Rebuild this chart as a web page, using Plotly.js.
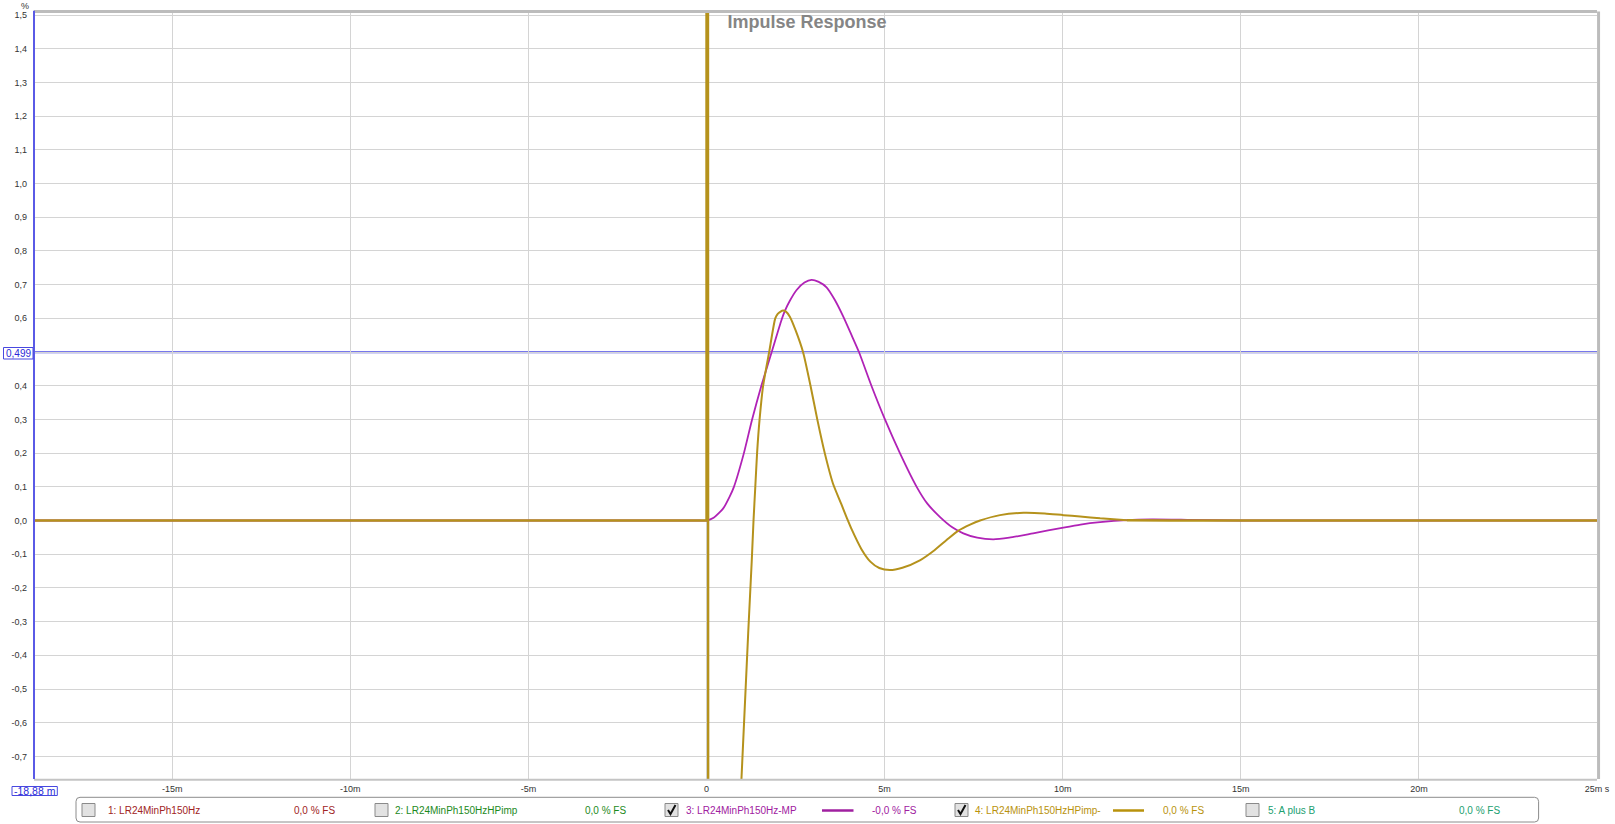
<!DOCTYPE html>
<html>
<head>
<meta charset="utf-8">
<script src="https://cdn.plot.ly/plotly-3.0.1.min.js"></script>
<style>
html,body{margin:0;padding:0;background:#fff;}
#chart{width:1615px;height:824px;}
</style>
</head>
<body>
<div id="chart"></div>
<script>
// ---- data (time in ms, value in %) ----
const tMP = [-18.88, -0.2, 0, 0.2, 0.47, 0.65, 0.77, 1.05, 1.28, 1.54, 1.83, 2.09, 2.2, 2.34, 2.53, 2.75, 2.95, 3.15, 3.37, 3.6, 3.84, 4.06, 4.28, 4.63, 5.01, 5.43, 5.9, 6.2, 6.55, 6.9, 7.21, 7.6, 8.05, 8.5, 9.17, 10.02, 10.5, 11.05, 11.8, 12.5, 13.5, 15, 25];
const vMP = [0, 0, 0, 0.008, 0.036, 0.071, 0.1, 0.2, 0.3, 0.4, 0.5, 0.59, 0.622, 0.652, 0.684, 0.706, 0.714, 0.708, 0.692, 0.655, 0.605, 0.553, 0.5, 0.4, 0.3, 0.2, 0.1, 0.05, 0.011, -0.02, -0.038, -0.051, -0.056, -0.051, -0.038, -0.021, -0.012, -0.005, 0.001, 0.003, 0.002, 0, 0];

const tHP = [-18.88, 0, 0, 0.09, 0.2, 0.5, 0.8, 0.98, 1.17, 1.27, 1.32, 1.37, 1.42, 1.49, 1.59, 1.76, 1.93, 2.0, 2.08, 2.15, 2.23, 2.34, 2.5, 2.71, 2.92, 3.11, 3.32, 3.55, 3.78, 3.95, 4.07, 4.35, 4.6, 4.85, 5.15, 5.5, 5.99, 6.4, 6.74, 7.07, 7.4, 7.68, 8.24, 8.9, 9.5, 10.02, 10.49, 11.05, 11.8, 13, 25];
const vHP = [0, 0, 20, -20, -5, -2.2, -1.2, -0.77, -0.335, -0.12, 0.0, 0.1, 0.2, 0.3, 0.4, 0.5, 0.6, 0.613, 0.62, 0.623, 0.62, 0.605, 0.565, 0.5, 0.4, 0.3, 0.2, 0.11, 0.05, 0.005, -0.025, -0.085, -0.122, -0.141, -0.147, -0.14, -0.118, -0.088, -0.058, -0.03, -0.012, 0.0, 0.016, 0.023, 0.021, 0.016, 0.012, 0.0065, 0.001, 0, 0];

const yTickVals = [1.5, 1.4, 1.3, 1.2, 1.1, 1.0, 0.9, 0.8, 0.7, 0.6, 0.5, 0.4, 0.3, 0.2, 0.1, 0.0, -0.1, -0.2, -0.3, -0.4, -0.5, -0.6, -0.7];
const yTickText = ['1,5','1,4','1,3','1,2','1,1','1,0','0,9','0,8','0,7','0,6','','0,4','0,3','0,2','0,1','0,0','-0,1','-0,2','-0,3','-0,4','-0,5','-0,6','-0,7'];
const xTickVals = [-15, -10, -5, 0, 5, 10, 15, 20, 25];
const xTickText = ['-15m', '-10m', '-5m', '0', '5m', '10m', '15m', '20m', '25m s'];

const cursorY = 0.499;
const cursorYText = '0,499';
const cursorXText = '-18,88 m';

const legendNames = ['1: LR24MinPh150Hz', '2: LR24MinPh150HzHPimp', '3: LR24MinPh150Hz-MP', '4: LR24MinPh150HzHPimp-', '5: A plus B'];
const legendValues = ['0,0 % FS', '0,0 % FS', '-0,0 % FS', '0,0 % FS', '0,0 % FS'];
const legendChecked = [false, false, true, true, false];

// ---- styling / layout ----
const colMP = '#b022b6';
const colHP = '#b5921c';
const legendColors = ['#a02424', '#1c8a1c', '#a020a0', '#b8920c', '#20a070'];
const FONT = 'Liberation Sans, Arial, sans-serif';

const Wd = 1615, Ht = 824;
const L = 34, R = 18, T = 13, B = 45;
const PW = Wd - L - R, PH = Ht - T - B;
const px = x => (x - L) / PW;
const py = y => (T + PH - y) / PH;

const shapes = [];
const annotations = [];

// blue cursor horizontal line
shapes.push({type:'line', xref:'paper', yref:'y', x0:0, x1:1, y0:cursorY, y1:cursorY, line:{color:'#4a4ae6', width:2}, layer:'below'});
// frame borders
shapes.push({type:'line', xref:'paper', yref:'paper', x0:0, x1:1, y0:1.002, y1:1.002, line:{color:'#bcbcbc', width:3}});
shapes.push({type:'line', xref:'paper', yref:'paper', x0:1.001, x1:1.001, y0:0, y1:1.002, line:{color:'#bcbcbc', width:3}});
shapes.push({type:'line', xref:'paper', yref:'paper', x0:0, x1:1, y0:-0.001, y1:-0.001, line:{color:'#c4c4c4', width:2}});
// blue left cursor line
shapes.push({type:'line', xref:'paper', yref:'paper', x0:0, x1:0, y0:0, y1:1.003, line:{color:'#5a5ae6', width:2}});

// cursor label boxes
shapes.push({type:'rect', xref:'paper', yref:'paper', x0:px(3.5), x1:px(33), y0:py(359), y1:py(347.5), line:{color:'#4848e0', width:1}, fillcolor:'#ffffff'});
annotations.push({xref:'paper', yref:'paper', x:px(18.3), y:py(353.5), text:cursorYText, showarrow:false, xanchor:'center', yanchor:'middle', font:{family:FONT, size:10, color:'#2a2ad8'}});
shapes.push({type:'rect', xref:'paper', yref:'paper', x0:px(12), x1:px(57.3), y0:py(795.5), y1:py(786.5), line:{color:'#4848e0', width:1}, fillcolor:'#ffffff'});
annotations.push({xref:'paper', yref:'paper', x:px(34.7), y:py(791), text:cursorXText, showarrow:false, xanchor:'center', yanchor:'middle', font:{family:FONT, size:10.5, color:'#2a2ad8'}});

// % unit label
annotations.push({xref:'paper', yref:'paper', x:px(25), y:py(6), text:'%', showarrow:false, xanchor:'center', yanchor:'middle', font:{family:FONT, size:9, color:'#333'}});

// legend box (rounded)
(function(){
  const x0 = 76, x1 = 1538.6, y0 = 797.3, y1 = 822, r = 4;
  const P = (x, y) => px(x) + ',' + py(y);
  const d = 'M ' + P(x0 + r, y0) + ' L ' + P(x1 - r, y0) + ' Q ' + P(x1, y0) + ' ' + P(x1, y0 + r) +
            ' L ' + P(x1, y1 - r) + ' Q ' + P(x1, y1) + ' ' + P(x1 - r, y1) +
            ' L ' + P(x0 + r, y1) + ' Q ' + P(x0, y1) + ' ' + P(x0, y1 - r) +
            ' L ' + P(x0, y0 + r) + ' Q ' + P(x0, y0) + ' ' + P(x0 + r, y0) + ' Z';
  shapes.push({type:'path', xref:'paper', yref:'paper', path:d, line:{color:'#8c8c8c', width:1}, fillcolor:'rgba(255,255,255,0)'});
})();

const boxX = [82, 375, 665, 955, 1246];
const nameX = [106, 393, 684, 973, 1266];
const valX = [291.7, 583, 870, 1160.8, 1456.8];
const sampleX = [null, null, [822, 853.5], [1113, 1144], null];
const legY = 810.5;
for (let i = 0; i < legendNames.length; i++) {
  const bx = boxX[i], by = 803.5;
  shapes.push({type:'rect', xref:'paper', yref:'paper', x0:px(bx), x1:px(bx + 13), y0:py(by + 13), y1:py(by), line:{color:'#8a8a8a', width:1}, fillcolor:'#e2e2e2'});
  if (legendChecked[i]) {
    const P = (x, y) => px(x) + ',' + py(y);
    shapes.push({type:'path', xref:'paper', yref:'paper', path:'M ' + P(bx + 3, by + 6.5) + ' L ' + P(bx + 5.5, by + 10.5) + ' L ' + P(bx + 10.5, by + 1.5), line:{color:'#111', width:2}});
  }
  annotations.push({xref:'paper', yref:'paper', x:px(nameX[i]), y:py(legY), text:legendNames[i], showarrow:false, xanchor:'left', yanchor:'middle', font:{family:FONT, size:10, color:legendColors[i]}});
  annotations.push({xref:'paper', yref:'paper', x:px(valX[i]), y:py(legY), text:legendValues[i], showarrow:false, xanchor:'left', yanchor:'middle', font:{family:FONT, size:10, color:legendColors[i]}});
  if (sampleX[i]) {
    shapes.push({type:'line', xref:'paper', yref:'paper', x0:px(sampleX[i][0]), x1:px(sampleX[i][1]), y0:py(legY), y1:py(legY), line:{color:legendColors[i], width:2.5}});
  }
}

// gold series: the initial spike part is drawn straight, the rest smoothed
const split = tHP.indexOf(0.98);
const tail = tHP.indexOf(11.8);
const traces = [
  {x:tMP, y:vMP, type:'scatter', mode:'lines', line:{color:colMP, width:1.8, shape:'spline', smoothing:0.6}, name:legendNames[2], hoverinfo:'skip'},
  {x:tHP.slice(0, split + 1), y:vHP.slice(0, split + 1), type:'scatter', mode:'lines', line:{color:colHP, width:2.4}, name:legendNames[3], hoverinfo:'skip'},
  {x:tHP.slice(split, tail + 1), y:vHP.slice(split, tail + 1), type:'scatter', mode:'lines', line:{color:colHP, width:2, shape:'spline', smoothing:0.6}, name:legendNames[3], hoverinfo:'skip'},
  {x:tHP.slice(tail), y:vHP.slice(tail), type:'scatter', mode:'lines', line:{color:colHP, width:2.4}, name:legendNames[3], hoverinfo:'skip'}
];

const layout = {
  width: Wd, height: Ht,
  margin: {l:L, r:R, t:T, b:B, pad:0},
  paper_bgcolor:'#ffffff', plot_bgcolor:'#ffffff',
  showlegend:false,
  title: {text:'<b>Impulse Response</b>', font:{family:FONT, size:18, color:'#858585'}, x:0.4997, xref:'container', xanchor:'center', y:1 - 22/824, yref:'container', yanchor:'middle'},
  xaxis: {range:[-18.88, 25], tickvals:xTickVals, ticktext:xTickText, showgrid:true, gridcolor:'#d4d4d4', gridwidth:1, zeroline:false, showline:false, ticks:'', tickfont:{family:FONT, size:9, color:'#333'}, ticklabelstandoff:3, fixedrange:true},
  yaxis: {range:[-0.767, 1.506], tickvals:yTickVals, ticktext:yTickText, showgrid:true, gridcolor:'#d4d4d4', gridwidth:1, zeroline:false, showline:false, ticks:'', tickfont:{family:FONT, size:9, color:'#333'}, ticklabelstandoff:6, fixedrange:true},
  shapes: shapes,
  annotations: annotations
};

Plotly.newPlot('chart', traces, layout, {displayModeBar:false, staticPlot:true});
</script>
</body>
</html>
